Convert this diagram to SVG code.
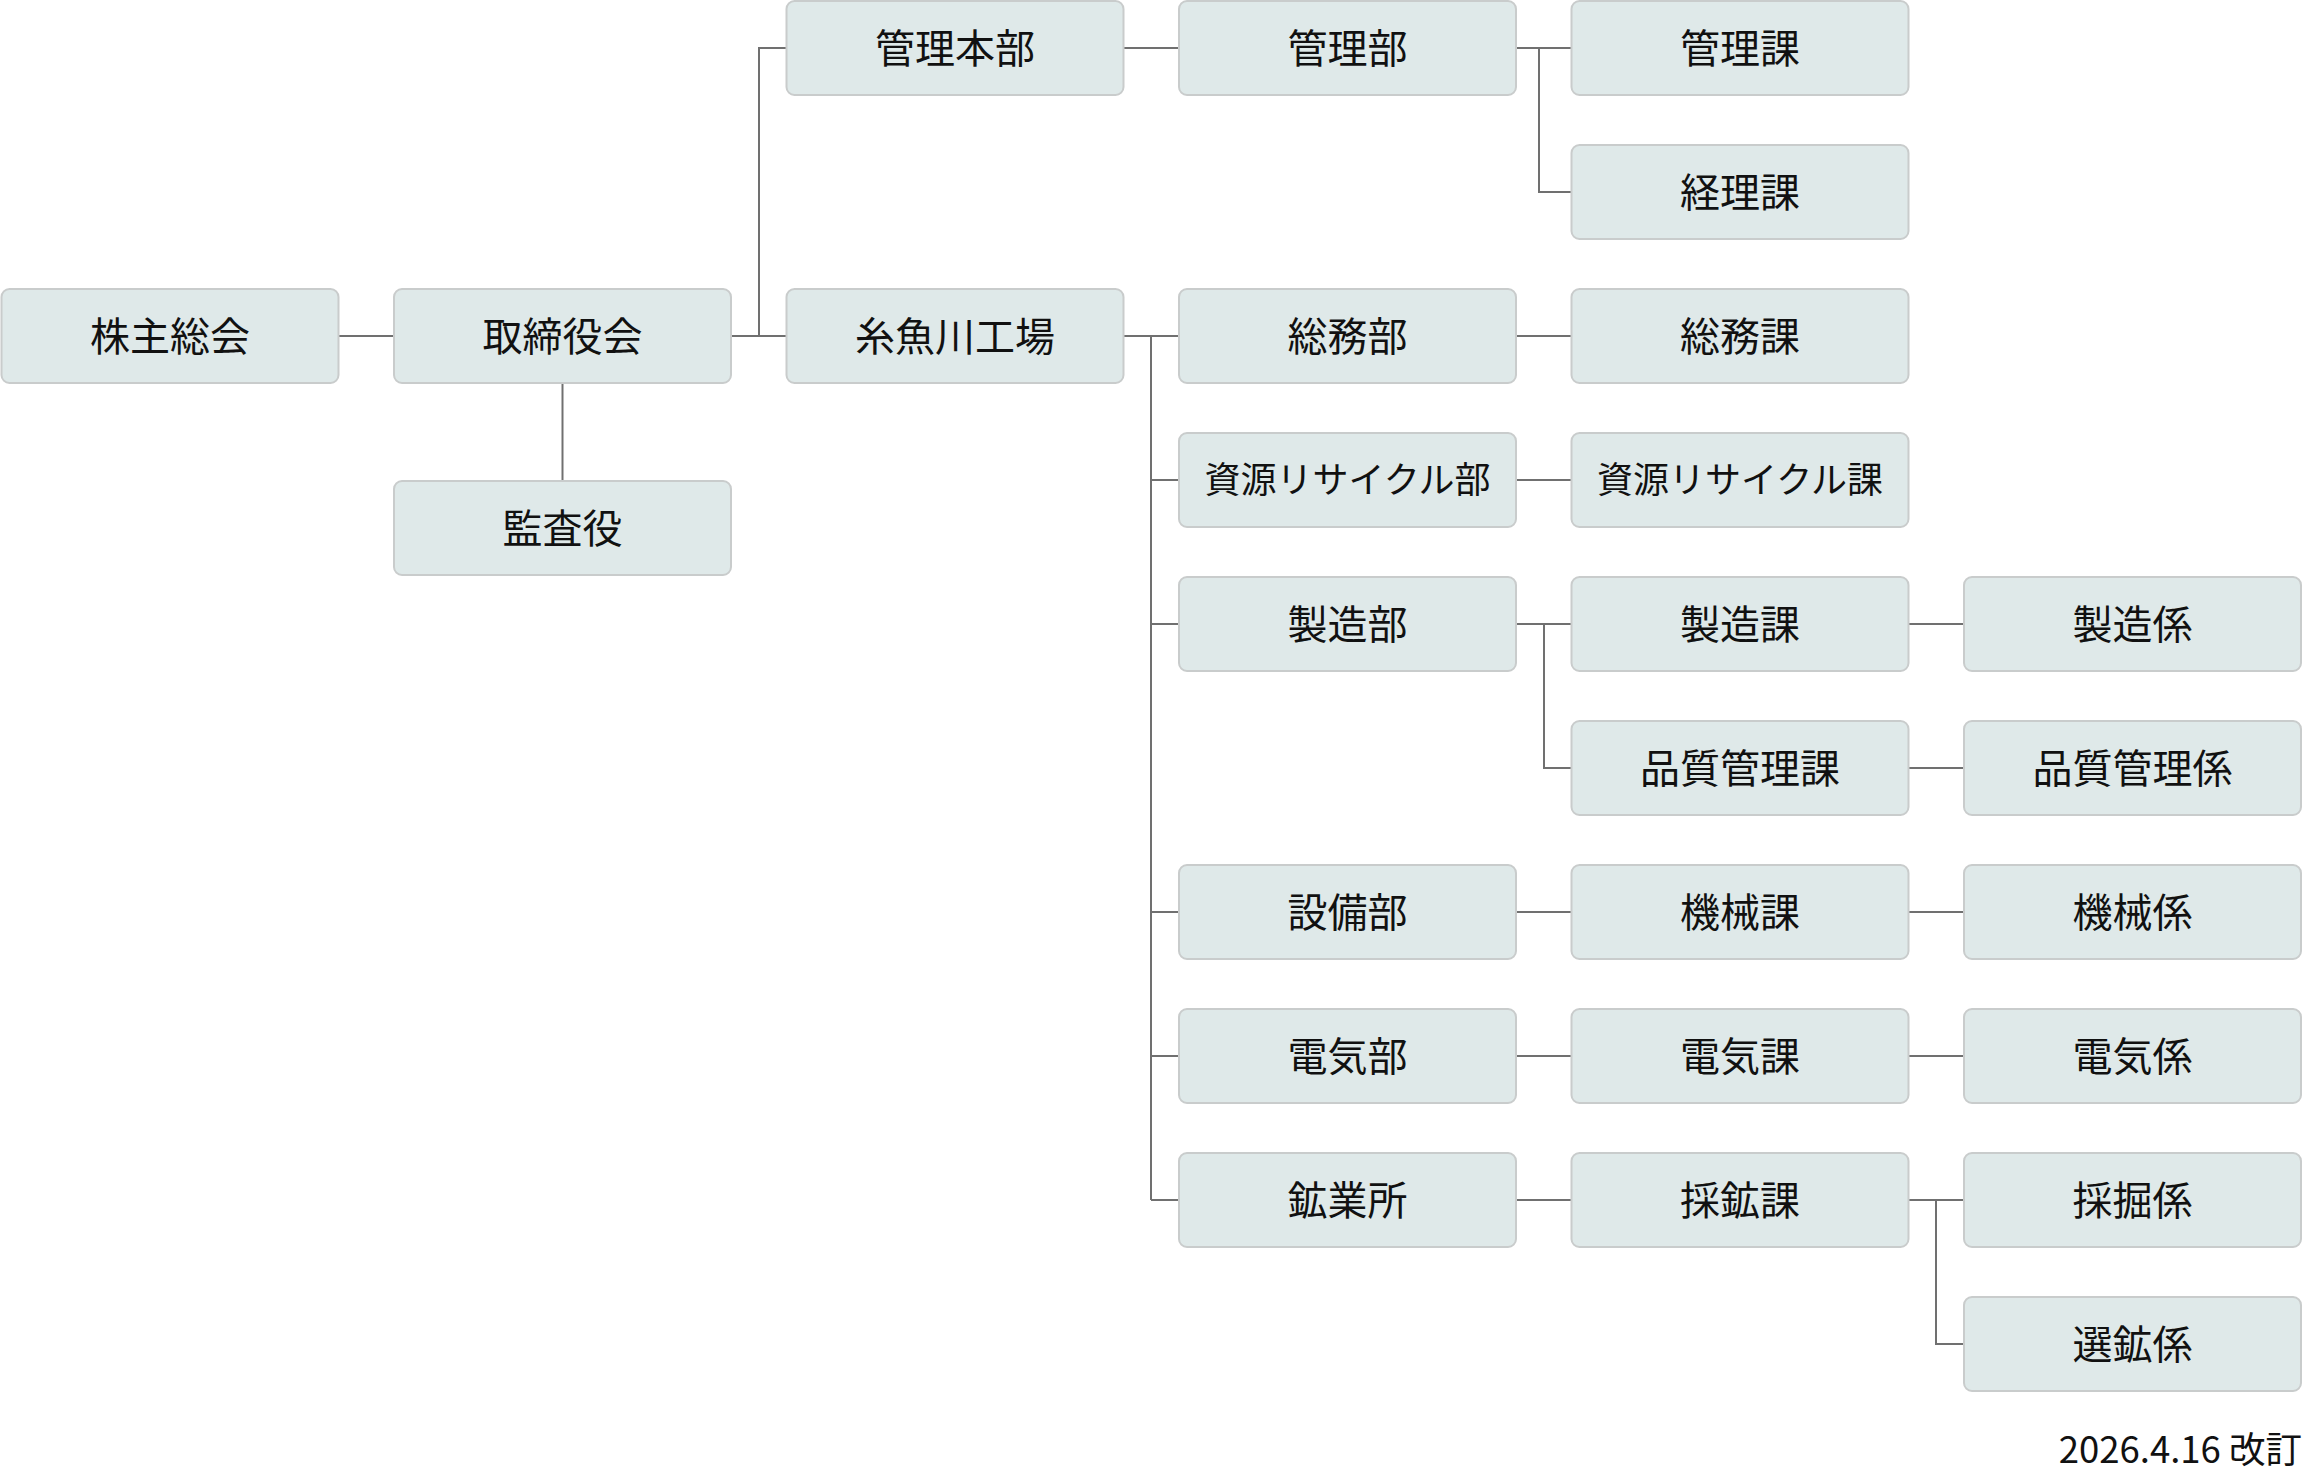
<svg xmlns="http://www.w3.org/2000/svg" width="2304" height="1474" viewBox="0 0 2304 1474">
<style>
.b{fill:#dfe9e9;stroke:#c9cccc;stroke-width:2}
.t{font-family:"Noto Sans CJK JP","Noto Sans",sans-serif;font-size:40px;fill:#111;text-anchor:middle}
.s{font-size:36px}
.c{fill:none;stroke:#707070;stroke-width:2}
</style>
<rect width="2304" height="1474" fill="#fff"/>
<g id="connectors" class="c">
<path d="M338.5 336H394"/>
<path d="M562.5 383V481"/>
<path d="M731 336H786.5M759 336V48H786.5"/>
<path d="M1123.5 48H1179"/>
<path d="M1516 48H1571.5M1539 48V192H1571.5"/>
<path d="M1123.5 336H1179M1151 336V1200M1151 480H1179M1151 624H1179M1151 912H1179M1151 1056H1179M1151 1200H1179"/>
<path d="M1516 336H1571.5"/>
<path d="M1516 480H1571.5"/>
<path d="M1516 624H1571.5M1544 624V768H1571.5"/>
<path d="M1908.5 624H1964"/>
<path d="M1908.5 768H1964"/>
<path d="M1516 912H1571.5M1908.5 912H1964"/>
<path d="M1516 1056H1571.5M1908.5 1056H1964"/>
<path d="M1516 1200H1571.5"/>
<path d="M1908.5 1200H1964M1936 1200V1344H1964"/>
</g>
<g id="n1"><rect class="b" x="1.5" y="289" width="337" height="94" rx="8"/><text class="t" x="170" y="351">株主総会</text></g>
<g id="n2"><rect class="b" x="394" y="289" width="337" height="94" rx="8"/><text class="t" x="562.5" y="351">取締役会</text></g>
<g id="n3"><rect class="b" x="394" y="481" width="337" height="94" rx="8"/><text class="t" x="562.5" y="543">監査役</text></g>
<g id="n4"><rect class="b" x="786.5" y="1" width="337" height="94" rx="8"/><text class="t" x="955" y="63">管理本部</text></g>
<g id="n5"><rect class="b" x="786.5" y="289" width="337" height="94" rx="8"/><text class="t" x="955" y="351">糸魚川工場</text></g>
<g id="n6"><rect class="b" x="1179" y="1" width="337" height="94" rx="8"/><text class="t" x="1347.5" y="63">管理部</text></g>
<g id="n7"><rect class="b" x="1179" y="289" width="337" height="94" rx="8"/><text class="t" x="1347.5" y="351">総務部</text></g>
<g id="n8"><rect class="b" x="1179" y="433" width="337" height="94" rx="8"/><text class="t s" x="1347.5" y="493">資源リサイクル部</text></g>
<g id="n9"><rect class="b" x="1179" y="577" width="337" height="94" rx="8"/><text class="t" x="1347.5" y="639">製造部</text></g>
<g id="n10"><rect class="b" x="1179" y="865" width="337" height="94" rx="8"/><text class="t" x="1347.5" y="927">設備部</text></g>
<g id="n11"><rect class="b" x="1179" y="1009" width="337" height="94" rx="8"/><text class="t" x="1347.5" y="1071">電気部</text></g>
<g id="n12"><rect class="b" x="1179" y="1153" width="337" height="94" rx="8"/><text class="t" x="1347.5" y="1215">鉱業所</text></g>
<g id="n13"><rect class="b" x="1571.5" y="1" width="337" height="94" rx="8"/><text class="t" x="1740" y="63">管理課</text></g>
<g id="n14"><rect class="b" x="1571.5" y="145" width="337" height="94" rx="8"/><text class="t" x="1740" y="207">経理課</text></g>
<g id="n15"><rect class="b" x="1571.5" y="289" width="337" height="94" rx="8"/><text class="t" x="1740" y="351">総務課</text></g>
<g id="n16"><rect class="b" x="1571.5" y="433" width="337" height="94" rx="8"/><text class="t s" x="1740" y="493">資源リサイクル課</text></g>
<g id="n17"><rect class="b" x="1571.5" y="577" width="337" height="94" rx="8"/><text class="t" x="1740" y="639">製造課</text></g>
<g id="n18"><rect class="b" x="1571.5" y="721" width="337" height="94" rx="8"/><text class="t" x="1740" y="783">品質管理課</text></g>
<g id="n19"><rect class="b" x="1571.5" y="865" width="337" height="94" rx="8"/><text class="t" x="1740" y="927">機械課</text></g>
<g id="n20"><rect class="b" x="1571.5" y="1009" width="337" height="94" rx="8"/><text class="t" x="1740" y="1071">電気課</text></g>
<g id="n21"><rect class="b" x="1571.5" y="1153" width="337" height="94" rx="8"/><text class="t" x="1740" y="1215">採鉱課</text></g>
<g id="n22"><rect class="b" x="1964" y="577" width="337" height="94" rx="8"/><text class="t" x="2132.5" y="639">製造係</text></g>
<g id="n23"><rect class="b" x="1964" y="721" width="337" height="94" rx="8"/><text class="t" x="2132.5" y="783">品質管理係</text></g>
<g id="n24"><rect class="b" x="1964" y="865" width="337" height="94" rx="8"/><text class="t" x="2132.5" y="927">機械係</text></g>
<g id="n25"><rect class="b" x="1964" y="1009" width="337" height="94" rx="8"/><text class="t" x="2132.5" y="1071">電気係</text></g>
<g id="n26"><rect class="b" x="1964" y="1153" width="337" height="94" rx="8"/><text class="t" x="2132.5" y="1215">採掘係</text></g>
<g id="n27"><rect class="b" x="1964" y="1297" width="337" height="94" rx="8"/><text class="t" x="2132.5" y="1359">選鉱係</text></g>
<text x="2302" y="1463" font-family="Noto Sans CJK JP, Noto Sans, sans-serif" font-size="36.5" fill="#111" text-anchor="end">2026.4.16 改訂</text>
</svg>
